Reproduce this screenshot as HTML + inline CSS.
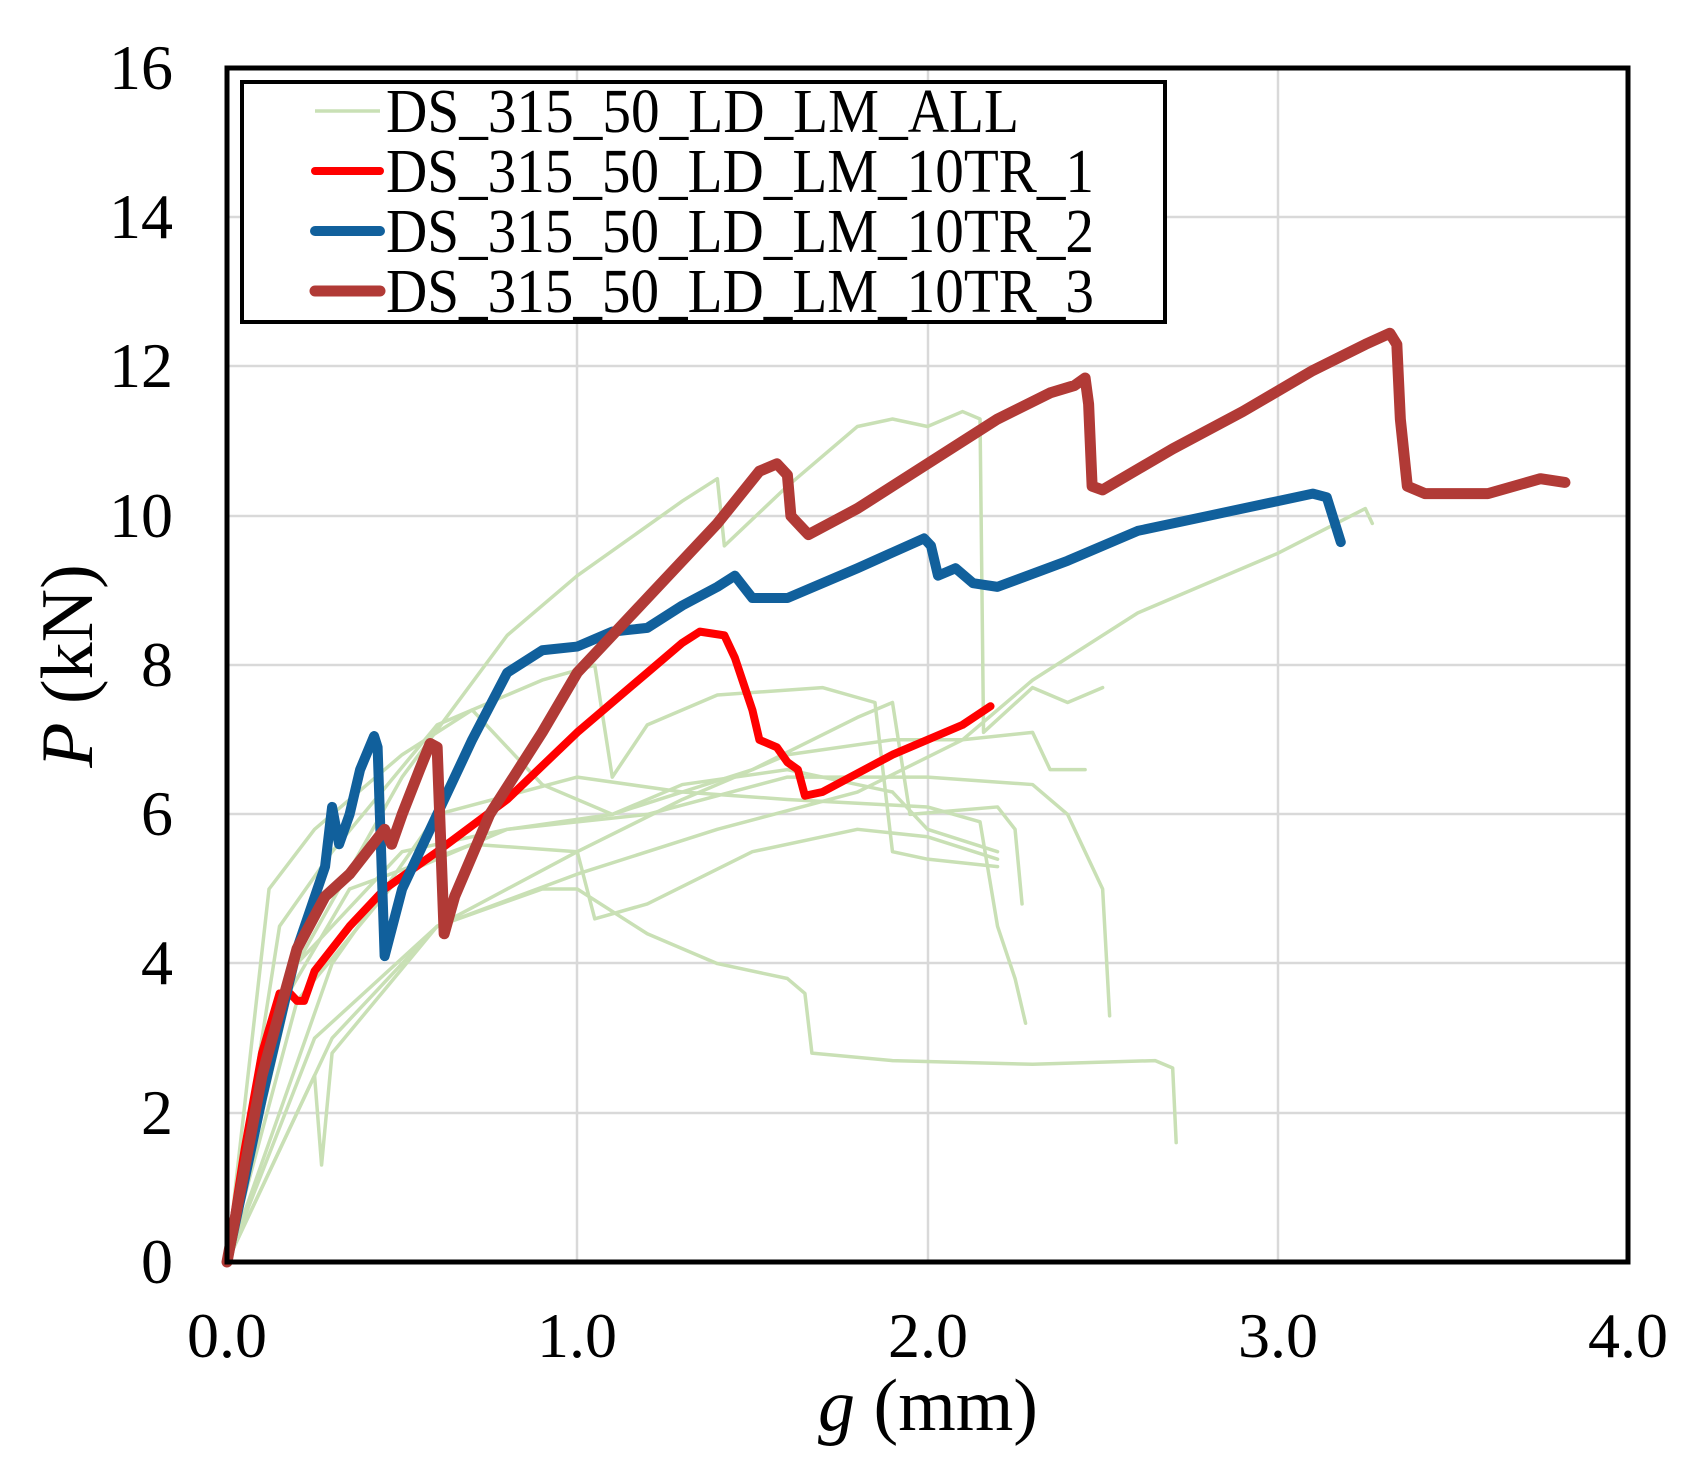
<!DOCTYPE html>
<html><head><meta charset="utf-8"><style>
html,body{margin:0;padding:0;background:#fff}
svg{display:block}
text{font-family:"Liberation Serif",serif;fill:#000}
</style></head><body>
<svg width="1703" height="1476" viewBox="0 0 1703 1476" xmlns="http://www.w3.org/2000/svg">
<rect width="1703" height="1476" fill="#fff"/>
<g stroke="#d9d9d9" stroke-width="2.5">
<line x1="577" y1="68" x2="577" y2="1262"/>
<line x1="928" y1="68" x2="928" y2="1262"/>
<line x1="1278" y1="68" x2="1278" y2="1262"/>
<line x1="227" y1="1113" x2="1628" y2="1113"/>
<line x1="227" y1="963" x2="1628" y2="963"/>
<line x1="227" y1="814" x2="1628" y2="814"/>
<line x1="227" y1="665" x2="1628" y2="665"/>
<line x1="227" y1="516" x2="1628" y2="516"/>
<line x1="227" y1="366" x2="1628" y2="366"/>
<line x1="227" y1="217" x2="1628" y2="217"/>
</g>
<g transform="translate(227,1262) scale(350.25,-74.6)" fill="none" stroke-linejoin="round" stroke-linecap="round">
<g stroke="#c9e0b5" stroke-width="3.5">
<polyline vector-effect="non-scaling-stroke" points="0,0 0.2,4 0.5,6.5 0.8,8.4 1.0,9.2 1.3,10.2 1.4,10.5 1.42,9.6 1.6,10.4 1.8,11.2 1.9,11.3 2.0,11.2 2.1,11.4 2.15,11.3 2.16,7.1 2.3,7.7 2.4,7.5 2.5,7.7"/>
<polyline vector-effect="non-scaling-stroke" points="0,0 0.3,3 0.6,4.5 1.0,5.2 1.4,5.8 1.8,6.3 2.1,7 2.3,7.8 2.6,8.7 2.8,9.1 3.0,9.5 3.25,10.1 3.27,9.9"/>
<polyline vector-effect="non-scaling-stroke" points="0,0 0.25,3 0.6,4.5 0.9,5 1.0,5.0 1.2,4.4 1.4,4.0 1.6,3.8 1.65,3.6 1.67,2.8 1.9,2.7 2.3,2.65 2.65,2.7 2.7,2.6 2.71,1.6"/>
<polyline vector-effect="non-scaling-stroke" points="0,0 0.2,3.5 0.5,5.2 0.8,5.8 1.2,6 1.6,6.5 2.0,6.5 2.3,6.4 2.4,6.0 2.45,5.5 2.5,5.0 2.52,3.3"/>
<polyline vector-effect="non-scaling-stroke" points="0,0 0.3,4 0.6,6.0 1.0,6.5 1.3,6.3 1.6,6.2 2.0,6.1 2.15,5.9 2.2,4.5 2.25,3.8 2.28,3.2"/>
<polyline vector-effect="non-scaling-stroke" points="0,0 0.15,4.5 0.3,5.5 0.6,7.2 0.9,7.8 1.05,8.0 1.1,6.5 1.2,7.2 1.4,7.6 1.7,7.7 1.85,7.5 1.9,5.5 2.0,5.4 2.2,5.3"/>
<polyline vector-effect="non-scaling-stroke" points="0,0 0.25,2.5 0.27,1.3 0.3,2.8 0.6,4.5 1.0,5.5 1.3,6.2 1.6,6.8 1.9,7.0 2.1,7.0 2.3,7.1 2.35,6.6 2.45,6.6"/>
<polyline vector-effect="non-scaling-stroke" points="0,0 0.1,3 0.35,5 0.7,5.6 1.0,5.5 1.05,4.6 1.2,4.8 1.5,5.5 1.8,5.8 2.0,5.7 2.2,5.4"/>
<polyline vector-effect="non-scaling-stroke" points="0,0 0.2,4.0 0.5,5.5 0.8,5.8 1.1,6.0 1.5,6.6 1.8,7.3 1.9,7.5 1.95,6.0 2.2,6.1 2.25,5.8 2.27,4.8"/>
<polyline vector-effect="non-scaling-stroke" points="0,0 0.12,5 0.25,5.8 0.5,6.8 0.7,7.4 0.9,6.4 1.1,6.0 1.3,6.4 1.6,6.6 1.9,6.3 2.0,5.8 2.2,5.5"/>
</g>
<polyline stroke="#ff0000" stroke-width="8" vector-effect="non-scaling-stroke" points="0,0 0.05,1.5 0.1,2.8 0.15,3.6 0.18,3.6 0.2,3.5 0.22,3.5 0.25,3.9 0.35,4.5 0.45,5 0.6,5.5 0.8,6.2 1.0,7.1 1.2,7.9 1.3,8.3 1.35,8.45 1.42,8.4 1.45,8.1 1.5,7.4 1.52,7.0 1.57,6.9 1.6,6.7 1.63,6.6 1.65,6.25 1.7,6.3 1.9,6.8 2.1,7.2 2.18,7.45"/>
<polyline stroke="#11609c" stroke-width="10" vector-effect="non-scaling-stroke" points="0,0 0.1,2.2 0.2,4.2 0.28,5.3 0.3,6.1 0.32,5.6 0.35,6.0 0.38,6.6 0.42,7.05 0.43,6.9 0.45,4.1 0.5,5.0 0.6,6.0 0.7,7.0 0.8,7.9 0.9,8.2 1.0,8.25 1.1,8.45 1.2,8.5 1.3,8.8 1.4,9.05 1.45,9.2 1.5,8.9 1.6,8.9 1.8,9.3 1.99,9.7 2.01,9.6 2.03,9.2 2.08,9.3 2.13,9.1 2.2,9.05 2.4,9.4 2.6,9.8 2.8,10 3.0,10.2 3.1,10.3 3.14,10.25 3.17,9.8 3.18,9.65"/>
<polyline stroke="#b13a36" stroke-width="11" vector-effect="non-scaling-stroke" points="0,0 0.1,2.5 0.2,4.2 0.28,4.9 0.35,5.2 0.4,5.5 0.45,5.8 0.47,5.6 0.5,6.0 0.55,6.6 0.58,6.95 0.6,6.9 0.62,4.4 0.65,4.9 0.75,6.0 0.9,7.1 1.0,7.9 1.2,8.9 1.4,9.9 1.52,10.6 1.57,10.7 1.6,10.55 1.61,10.0 1.64,9.85 1.66,9.75 1.8,10.1 1.9,10.4 2.0,10.7 2.2,11.3 2.35,11.65 2.42,11.75 2.45,11.85 2.46,11.5 2.47,10.4 2.5,10.35 2.7,10.9 2.9,11.4 3.1,11.95 3.25,12.3 3.32,12.45 3.34,12.3 3.35,11.3 3.37,10.4 3.42,10.3 3.6,10.3 3.75,10.5 3.82,10.45"/>
</g>
<rect x="227" y="68" width="1401" height="1194" fill="none" stroke="#000" stroke-width="5"/>
<rect x="242" y="82" width="923" height="240" fill="#fff" stroke="#000" stroke-width="4"/>
<line x1="315" y1="111" x2="380" y2="111" stroke="#c9e0b5" stroke-width="3.5"/>
<line x1="315" y1="171" x2="380" y2="171" stroke="#ff0000" stroke-width="8" stroke-linecap="round"/>
<line x1="315" y1="231" x2="380" y2="231" stroke="#11609c" stroke-width="10" stroke-linecap="round"/>
<line x1="315" y1="291" x2="380" y2="291" stroke="#b13a36" stroke-width="11" stroke-linecap="round"/>
<g font-size="62">
<text x="386" y="132" textLength="633" lengthAdjust="spacingAndGlyphs">DS_315_50_LD_LM_ALL</text>
<text x="386" y="192" textLength="708" lengthAdjust="spacingAndGlyphs">DS_315_50_LD_LM_10TR_1</text>
<text x="386" y="252" textLength="708" lengthAdjust="spacingAndGlyphs">DS_315_50_LD_LM_10TR_2</text>
<text x="386" y="312" textLength="708" lengthAdjust="spacingAndGlyphs">DS_315_50_LD_LM_10TR_3</text>
</g>
<g font-size="64" text-anchor="end">
<text x="173" y="1283">0</text>
<text x="173" y="1134">2</text>
<text x="173" y="984">4</text>
<text x="173" y="835">6</text>
<text x="173" y="686">8</text>
<text x="173" y="537">10</text>
<text x="173" y="387">12</text>
<text x="173" y="238">14</text>
<text x="173" y="89">16</text>
</g>
<g font-size="64" text-anchor="middle">
<text x="227" y="1357">0.0</text>
<text x="577" y="1357">1.0</text>
<text x="928" y="1357">2.0</text>
<text x="1278" y="1357">3.0</text>
<text x="1628" y="1357">4.0</text>
</g>
<text x="928" y="1430" font-size="74" text-anchor="middle"><tspan font-style="italic">g</tspan> (mm)</text>
<text transform="translate(92,666) rotate(-90)" font-size="74" text-anchor="middle"><tspan font-style="italic">P</tspan> (kN)</text>
</svg>
</body></html>
